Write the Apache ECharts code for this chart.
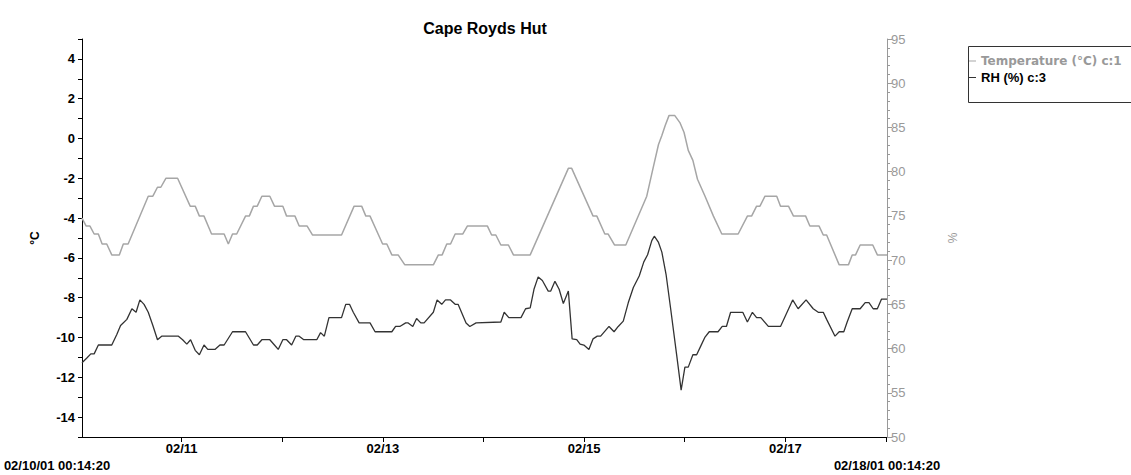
<!DOCTYPE html>
<html>
<head>
<meta charset="utf-8">
<script src="https://cdn.jsdelivr.net/npm/echarts@6/dist/echarts.min.js"></script>
<style>
  html, body { margin: 0; padding: 0; background: #fff; }
  #chart { width: 1131px; height: 475px; }
</style>
</head>
<body>
<div id="chart"></div>
<script>
// logger window: 02/10/01 00:14:20 -> 02/18/01 00:14:20
var startTime = Date.UTC(2001, 1, 10, 0, 14, 20);
var endTime = Date.UTC(2001, 1, 18, 0, 14, 20);

// hours after start, and readings
var tempHours = [0, 1.0, 1.9, 2.9, 3.9, 4.8, 5.9, 7.1, 8.9, 9.85, 11.0, 15.8, 16.9, 18.0, 18.8, 20.0, 22.8, 25.8, 27.0, 28.0,
  29.1, 30.9, 33.9, 34.9, 35.9, 36.9, 39.0, 39.9, 40.9, 41.8, 42.9, 44.8, 45.9, 47.9, 48.8, 50.8, 51.8, 53.7, 55.0, 61.9,
  64.9, 66.7, 67.7, 68.7, 71.7, 72.7, 73.9, 75.4, 77.0, 83.8, 85.0, 85.9, 87.0, 87.9, 89.0, 90.8, 91.9, 96.7, 97.7, 98.7,
  99.9, 101.7, 102.9, 106.9, 116.0, 116.8, 121.9, 122.8, 124.7, 125.5, 127.0, 129.7, 134.7, 136.3, 137.5, 138.3, 139.1, 140.0, 141.4, 142.6,
  143.6, 144.6, 145.7, 146.8, 148.6, 150.6, 152.6, 156.5, 158.7, 159.7, 160.9, 161.7, 162.9, 165.7, 166.6, 168.5, 169.7, 172.6, 173.6, 175.8,
  176.8, 177.6, 180.6, 182.8, 183.7, 184.5, 185.6, 188.6, 189.7, 192.0];
var tempValues = [-4.0, -4.4, -4.4, -4.8, -4.8, -5.3, -5.3, -5.85, -5.85, -5.3, -5.3, -2.9, -2.9, -2.45, -2.45, -2.0, -2.0, -3.4, -3.4, -3.9,
  -3.9, -4.8, -4.8, -5.3, -4.8, -4.8, -3.9, -3.9, -3.4, -3.4, -2.9, -2.9, -3.4, -3.4, -3.9, -3.9, -4.4, -4.4, -4.85, -4.85,
  -3.4, -3.4, -3.9, -3.9, -5.3, -5.3, -5.85, -5.85, -6.35, -6.35, -5.85, -5.85, -5.3, -5.3, -4.8, -4.8, -4.4, -4.4, -4.85, -4.85,
  -5.35, -5.35, -5.85, -5.85, -1.5, -1.5, -3.9, -3.9, -4.8, -4.8, -5.35, -5.35, -2.9, -1.4, -0.3, 0.15, 0.65, 1.15, 1.15, 0.8,
  0.3, -0.6, -1.1, -2.05, -2.9, -3.9, -4.8, -4.8, -3.9, -3.9, -3.4, -3.4, -2.9, -2.9, -3.4, -3.4, -3.9, -3.9, -4.4, -4.4,
  -4.85, -4.85, -6.35, -6.35, -5.85, -5.85, -5.35, -5.35, -5.85, -5.85];

var rhHours = [0, 1.1, 2.1, 2.9, 3.9, 7.1, 8.3, 9.2, 10.7, 11.9, 12.9, 13.8, 14.8, 15.8, 16.9, 18.0, 19.0, 23.0, 24.0, 25.0,
  25.9, 27.0, 28.0, 29.1, 30.0, 31.7, 32.9, 33.9, 35.9, 39.0, 40.9, 41.8, 42.9, 44.8, 45.9, 46.8, 47.9, 48.8, 50.0, 51.0,
  51.8, 52.9, 56.0, 56.9, 57.8, 58.9, 61.9, 62.9, 63.8, 64.7, 66.1, 68.7, 69.9, 73.9, 74.8, 75.8, 77.2, 77.8, 78.9, 79.8,
  80.8, 81.6, 83.8, 84.7, 85.8, 86.7, 87.9, 89.0, 89.7, 91.6, 92.5, 94.0, 99.9, 100.7, 101.8, 104.7, 105.8, 106.9, 107.8, 108.8,
  109.8, 111.2, 111.8, 112.8, 113.8, 114.8, 116.0, 116.9, 118.0, 118.8, 119.7, 120.9, 121.9, 122.9, 123.7, 125.7, 126.9, 127.9, 129.1, 130.3,
  131.5, 132.9, 134.0, 134.9, 135.9, 136.5, 137.5, 138.3, 139.3, 140.4, 141.8, 142.9, 143.8, 144.6, 145.7, 146.6, 147.6, 148.6, 149.6, 151.7,
  152.7, 153.7, 154.7, 157.6, 158.7, 159.9, 160.9, 161.9, 163.7, 166.6, 169.5, 170.8, 172.7, 174.4, 175.6, 176.8, 177.6, 179.6, 180.6, 181.7,
  182.5, 183.7, 185.6, 186.8, 187.7, 188.7, 189.7, 190.7, 192.0];
var rhValues = [58.4, 58.9, 59.4, 59.4, 60.4, 60.4, 61.6, 62.6, 63.3, 64.5, 64.1, 65.5, 65.0, 64.1, 62.6, 61.0, 61.4, 61.4, 61.0, 60.5,
  61.0, 59.8, 59.3, 60.4, 59.9, 59.9, 60.4, 60.4, 61.9, 61.9, 60.4, 60.4, 61.0, 61.0, 60.4, 59.9, 61.0, 61.0, 60.4, 61.4,
  61.4, 61.0, 61.0, 61.8, 61.4, 63.5, 63.5, 65.0, 65.0, 64.1, 62.9, 62.9, 61.9, 61.9, 62.5, 62.5, 62.9, 62.9, 62.5, 63.4,
  62.9, 62.9, 64.1, 65.5, 65.0, 65.5, 65.5, 65.0, 65.0, 62.9, 62.5, 62.9, 63.0, 64.1, 63.5, 63.5, 64.5, 64.6, 66.7, 68.1,
  67.7, 66.5, 66.5, 67.6, 66.7, 65.1, 66.5, 61.1, 61.0, 60.5, 60.4, 59.9, 61.1, 61.4, 61.4, 62.5, 61.9, 62.5, 63.1, 65.2,
  66.9, 68.2, 69.8, 70.6, 72.2, 72.7, 72.0, 70.9, 68.4, 64.5, 59.4, 55.3, 57.9, 57.9, 59.3, 59.3, 60.3, 61.3, 61.9, 61.9,
  62.5, 62.5, 64.1, 64.1, 63.0, 64.1, 63.5, 63.5, 62.5, 62.5, 65.5, 64.5, 65.5, 64.5, 64.1, 64.1, 63.3, 61.4, 61.9, 61.9,
  63.0, 64.5, 64.5, 65.2, 65.2, 64.5, 64.5, 65.6, 65.6];

// axis ticks and labels
var dayTicks = [Date.UTC(2001, 1, 11), Date.UTC(2001, 1, 12), Date.UTC(2001, 1, 13), Date.UTC(2001, 1, 14),
  Date.UTC(2001, 1, 15), Date.UTC(2001, 1, 16), Date.UTC(2001, 1, 17), Date.UTC(2001, 1, 18)];
var dayLabels = [startTime, Date.UTC(2001, 1, 11), Date.UTC(2001, 1, 13), Date.UTC(2001, 1, 15), Date.UTC(2001, 1, 17), endTime];
var tempTickValues = [-15, -14, -13, -12, -11, -10, -9, -8, -7, -6, -5, -4, -3, -2, -1, 0, 1, 2, 3, 4, 5];
var tempLabelValues = [-14, -12, -10, -8, -6, -4, -2, 0, 2, 4];

var FONT = '"Liberation Sans", Arial, sans-serif';

function toSeries(hours, values) {
  var out = [];
  for (var i = 0; i < hours.length; i++) {
    out.push([startTime + hours[i] * 3600000, values[i]]);
  }
  return out;
}

function pad(n) { return n < 10 ? '0' + n : '' + n; }
function fullStamp(t) {
  var d = new Date(t);
  return pad(d.getUTCMonth() + 1) + '/' + pad(d.getUTCDate()) + '/' + pad(d.getUTCFullYear() % 100) + ' ' +
    pad(d.getUTCHours()) + ':' + pad(d.getUTCMinutes()) + ':' + pad(d.getUTCSeconds());
}

var chart = echarts.init(document.getElementById('chart'), null, { renderer: 'svg' });

var option = {
  backgroundColor: '#fff',
  animation: false,
  title: {
    text: 'Cape Royds Hut',
    left: 480,
    top: 15,
    textAlign: 'center',
    textStyle: { fontFamily: FONT, fontSize: 16, fontWeight: 'bold', color: '#000' }
  },
  // legend frame runs off the right edge like the original
  graphic: [{
    type: 'rect',
    left: 966,
    top: 44,
    silent: true,
    shape: { width: 300, height: 56 },
    style: { fill: 'none', stroke: '#333', lineWidth: 1 }
  }],
  legend: {
    orient: 'vertical',
    left: 966,
    top: 44,
    padding: [11, 0, 0, 3],
    itemGap: 4,
    itemWidth: 7,
    itemHeight: 1,
    icon: 'rect',
    selectedMode: false,
    textStyle: { fontFamily: FONT, fontSize: 13, fontWeight: 'bold' },
    data: [
      { name: 'Temperature (°C) c:1', textStyle: { color: '#999', fontFamily: '"DejaVu Sans", sans-serif', fontSize: 12 } },
      { name: 'RH (%) c:3', textStyle: { color: '#000' } }
    ]
  },
  grid: { left: 82, right: 244, top: 39, bottom: 38, containLabel: false },
  xAxis: {
    type: 'value',
    min: startTime,
    max: endTime,
    axisLine: { onZero: false, lineStyle: { color: '#000', width: 1 } },
    axisTick: { show: true, length: 5, customValues: dayTicks, lineStyle: { color: '#000' } },
    splitLine: { show: false },
    axisLabel: {
      customValues: dayLabels,
      margin: 5,
      color: '#000',
      fontFamily: FONT,
      fontSize: 13,
      fontWeight: 'bold',
      formatter: function (v) {
        if (v === startTime) return '{s|' + fullStamp(v) + '}';
        if (v === endTime) return '{e|' + fullStamp(v) + '}';
        var d = new Date(v);
        return pad(d.getUTCMonth() + 1) + '/' + pad(d.getUTCDate());
      },
      rich: {
        s: { fontFamily: FONT, fontSize: 13, fontWeight: 'bold', color: '#000', padding: [17, 50, 0, 0] },
        e: { fontFamily: FONT, fontSize: 13, fontWeight: 'bold', color: '#000', padding: [17, 0, 0, 0] }
      }
    }
  },
  yAxis: [
    {
      type: 'value',
      position: 'left',
      min: -15,
      max: 5,
      name: '°C',
      nameLocation: 'middle',
      nameRotate: 90,
      nameGap: 41,
      nameTextStyle: { fontFamily: FONT, fontSize: 12, fontWeight: 'bold', color: '#000' },
      axisLine: { show: true, onZero: false, lineStyle: { color: '#000', width: 1 } },
      axisTick: { show: true, length: 4, customValues: tempTickValues, lineStyle: { color: '#000' } },
      axisLabel: {
        customValues: tempLabelValues,
        margin: 7,
        color: '#000',
        fontFamily: FONT,
        fontSize: 13,
        fontWeight: 'bold'
      },
      splitLine: { show: false }
    },
    {
      type: 'value',
      position: 'right',
      min: 50,
      max: 95,
      interval: 5,
      name: '%',
      nameLocation: 'middle',
      nameRotate: 90,
      nameGap: 60,
      nameTextStyle: { fontFamily: FONT, fontSize: 12, color: '#999' },
      axisLine: { show: true, onZero: false, lineStyle: { color: '#999', width: 1 } },
      axisTick: { show: true, length: 5, lineStyle: { color: '#999' } },
      minorTick: { show: true, splitNumber: 5, length: 3, lineStyle: { color: '#999' } },
      axisLabel: { margin: 4, color: '#999', fontFamily: FONT, fontSize: 13 },
      splitLine: { show: false },
      minorSplitLine: { show: false }
    }
  ],
  series: [
    {
      name: 'Temperature (°C) c:1',
      type: 'line',
      yAxisIndex: 0,
      showSymbol: false,
      symbol: 'none',
      color: '#a6a6a6',
      lineStyle: { color: '#a6a6a6', width: 1.5 },
      data: toSeries(tempHours, tempValues)
    },
    {
      name: 'RH (%) c:3',
      type: 'line',
      yAxisIndex: 1,
      showSymbol: false,
      symbol: 'none',
      color: '#333',
      lineStyle: { color: '#333', width: 1.3 },
      data: toSeries(rhHours, rhValues)
    }
  ]
};

chart.setOption(option);
</script>
</body>
</html>
